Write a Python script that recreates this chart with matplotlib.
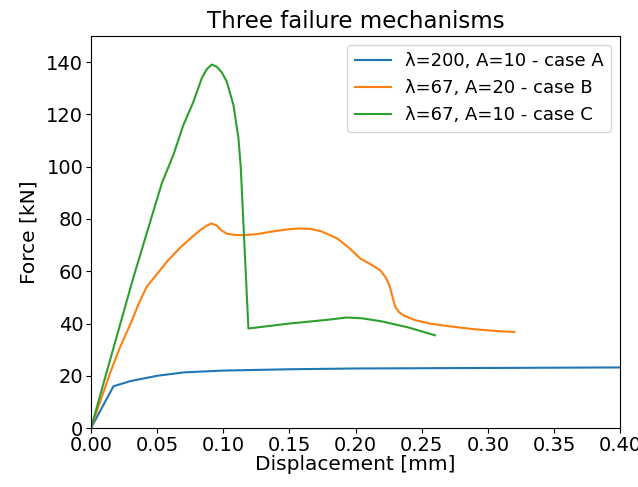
import matplotlib
matplotlib.use('Agg')
import matplotlib.pyplot as plt

# displacement [mm] / force [kN] for the three cases
disp_a = [0.0, 0.017, 0.03, 0.05, 0.07, 0.10, 0.15, 0.20, 0.30, 0.40]
force_a = [0.0, 16.0, 18.0, 20.0, 21.3, 22.0, 22.5, 22.8, 23.0, 23.2]

disp_b = [0.0, 0.0144, 0.022, 0.03, 0.036, 0.042, 0.05, 0.058, 0.067, 0.075,
          0.082, 0.087, 0.091, 0.095, 0.099, 0.103, 0.109, 0.115, 0.125, 0.137,
          0.148, 0.158, 0.166, 0.174, 0.186, 0.195, 0.2035, 0.212, 0.2186,
          0.223, 0.226, 0.228, 0.23, 0.233, 0.236, 0.245, 0.256, 0.27, 0.29,
          0.31, 0.32]
force_b = [0.0, 21.0, 31.0, 40.0, 47.5, 54.0, 59.0, 64.0, 68.8, 72.5,
           75.5, 77.3, 78.3, 77.5, 75.5, 74.3, 73.9, 73.8, 74.2, 75.2,
           76.0, 76.4, 76.2, 75.3, 72.6, 69.0, 64.9, 62.5, 60.4,
           57.5, 54.0, 50.0, 46.4, 44.3, 43.2, 41.3, 40.0, 39.0, 37.8,
           37.0, 36.8]

disp_c = [0.0, 0.0144, 0.032, 0.0535, 0.0622, 0.0698, 0.0774, 0.0837, 0.0875,
          0.0913, 0.095, 0.099, 0.1026, 0.1077, 0.1115, 0.1132, 0.119, 0.15,
          0.18, 0.193, 0.205, 0.22, 0.24, 0.26]
force_c = [0.0, 26.0, 57.5, 93.6, 104.4, 115.9, 124.8, 133.8, 137.3,
           139.1, 138.3, 136.0, 132.6, 123.6, 110.8, 100.0, 38.1, 40.0,
           41.5, 42.3, 42.0, 40.8, 38.5, 35.5]

labels = ['λ=200, A=10 - case A', 'λ=67, A=20 - case B', 'λ=67, A=10 - case C']

fig = plt.figure(figsize=(6.38, 4.87), dpi=100)
ax = fig.add_axes([0.1426, 0.121, 0.8294, 0.805])

ax.plot(disp_a, force_a, color='tab:blue', linewidth=1.5, label=labels[0])
ax.plot(disp_b, force_b, color='tab:orange', linewidth=1.5, label=labels[1])
ax.plot(disp_c, force_c, color='tab:green', linewidth=1.5, label=labels[2])

ax.set_xlim(0, 0.4)
ax.set_ylim(0, 150)
ax.set_yticks([0, 20, 40, 60, 80, 100, 120, 140])
ax.set_xticks([0.0, 0.05, 0.10, 0.15, 0.20, 0.25, 0.30, 0.35, 0.40])
ax.set_xticklabels(['%.2f' % v for v in ax.get_xticks()])
ax.tick_params(axis='both', labelsize=14, pad=2)

ax.set_title('Three failure mechanisms', fontsize=16.5)
ax.set_xlabel('Displacement [mm]', fontsize=14.5, labelpad=0)
ax.set_ylabel('Force [kN]', fontsize=14.5, labelpad=6)
ax.legend(loc='upper right', fontsize=13)

fig.savefig('out.png', dpi=100)
plt.close(fig)
